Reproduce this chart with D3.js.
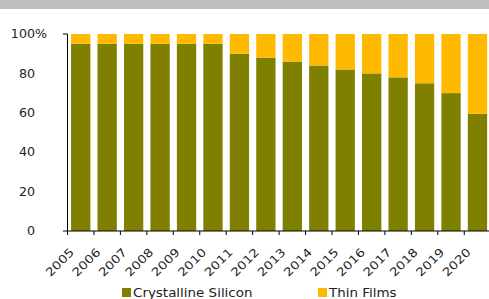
<!DOCTYPE html>
<html><head><meta charset="utf-8">
<script src="https://cdn.jsdelivr.net/npm/d3@7"></script>
<style>body{margin:0;background:#fff}svg{display:block}text{font-family:"DejaVu Sans",Verdana,sans-serif;fill:#222}</style>
</head><body>
<script>
const years = ["2005","2006","2007","2008","2009","2010","2011","2012","2013","2014","2015","2016","2017","2018","2019","2020"];
const crystalline = [95,95,95,95,95,95,90,88,86,84,82,80,78,75,70,59.5];
const thinFilms = crystalline.map(v => 100 - v);
const yTicks = [0,20,40,60,80,100];
const seriesNames = ["Crystalline Silicon","Thin Films"];
const colors = ["#808000","#FFBA00"];

const W = 489, H = 299, SX = 1.17;
const svg = d3.select("body").append("svg").attr("width", W).attr("height", H);
svg.append("rect").attr("x",0).attr("y",0).attr("width",W).attr("height",9).attr("fill","#bfbfbf");

const x = d3.scaleBand().domain(years).range([67.5, 490.7]).paddingInner(0.27).paddingOuter(0.135);
const y = d3.scaleLinear().domain([0,100]).range([231, 34]);

const rows = years.map((yr,i)=>({year:yr, c:crystalline[i], t:thinFilms[i]}));
const stack = d3.stack().keys(["c","t"])(rows);

svg.selectAll("g.s").data(stack).join("g").attr("fill",(d,i)=>colors[i])
  .selectAll("rect").data(d=>d).join("rect")
  .attr("x", d=>x(d.data.year)).attr("width", x.bandwidth())
  .attr("y", d=>y(d[1])).attr("height", d=>y(d[0])-y(d[1]));

// y axis
svg.append("line").attr("x1",67.5).attr("x2",67.5).attr("y1",y(100)).attr("y2",y(0)).attr("stroke","#000");
svg.append("line").attr("x1",63).attr("x2",67.5).attr("y1",y(100)).attr("y2",y(100)).attr("stroke","#000");
yTicks.forEach(t=>{
  const g = svg.append("g").attr("transform",`translate(35,${y(t)}) scale(1.1,1)`);
  g.append("text").attr("dy","0.36em").attr("text-anchor","end").attr("font-size","11.5px").text(t);
  if(t===100) g.append("text").attr("dy","0.36em").attr("font-size","11.5px").text("%");
});
// x axis
svg.append("line").attr("x1",63).attr("x2",W).attr("y1",y(0)).attr("y2",y(0)).attr("stroke","#000");
const bounds = years.map(yr=>x(yr) - x.step()*x.paddingInner()/2);
bounds.forEach(b=>svg.append("line").attr("x1",b).attr("x2",b).attr("y1",y(0)).attr("y2",y(0)+4).attr("stroke","#000"));
svg.selectAll("text.xl").data(years).join("text").attr("class","xl")
  .attr("font-size","11.5px").attr("text-anchor","end")
  .attr("transform", d=>`translate(${x(d)+x.bandwidth()/2-6},${253}) rotate(-45) scale(${SX},1)`)
  .text(d=>d);

// legend
const leg = [{n:seriesNames[0], c:colors[0], x:122},{n:seriesNames[1], c:colors[1], x:318}];
leg.forEach(l=>{
  svg.append("rect").attr("x",l.x).attr("y",288).attr("width",9).attr("height",9).attr("fill",l.c);
  svg.append("text").attr("transform",`translate(${l.x+11},297) scale(${SX},1)`).attr("font-size","11.5px").text(l.n);
});
</script>
</body></html>
